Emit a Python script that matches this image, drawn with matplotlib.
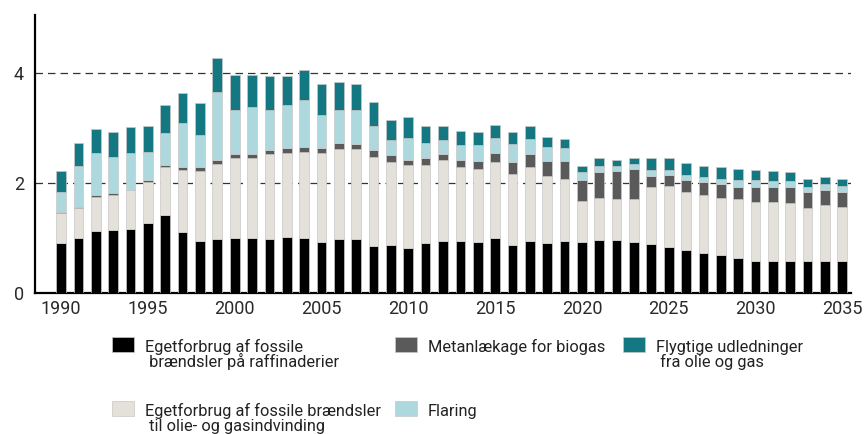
import matplotlib
matplotlib.use("Agg")
import matplotlib.pyplot as plt
from matplotlib.patches import Rectangle
import numpy as np

plt.rcParams['font.family'] = ['Roboto', 'DejaVu Sans']

years = np.arange(1990, 2036)

# cumulative tops, per series
raff = [0.91, 1.00, 1.12, 1.14, 1.16, 1.28, 1.42, 1.10, 0.95, 0.98,
        1.00, 1.00, 0.98, 1.02, 1.00, 0.93, 0.98, 0.98, 0.86, 0.88,
        0.81, 0.91, 0.95, 0.95, 0.93, 1.00, 0.88, 0.95, 0.91, 0.95,
        0.92, 0.96, 0.96, 0.92, 0.89, 0.83, 0.78, 0.73, 0.69, 0.64,
        0.59, 0.59, 0.59, 0.59, 0.59, 0.59]
olie_top = [1.45, 1.54, 1.75, 1.78, 1.87, 2.01, 2.28, 2.24, 2.22, 2.35,
            2.45, 2.45, 2.52, 2.54, 2.56, 2.54, 2.61, 2.61, 2.47, 2.38,
            2.32, 2.33, 2.42, 2.28, 2.26, 2.38, 2.17, 2.28, 2.12, 2.07,
            1.68, 1.73, 1.70, 1.70, 1.92, 1.94, 1.84, 1.78, 1.73, 1.70,
            1.66, 1.66, 1.64, 1.54, 1.59, 1.57]
metan_top = [1.47, 1.56, 1.78, 1.82, 1.88, 2.05, 2.33, 2.28, 2.28, 2.42,
             2.52, 2.52, 2.59, 2.64, 2.65, 2.64, 2.73, 2.70, 2.59, 2.50,
             2.42, 2.45, 2.52, 2.42, 2.40, 2.54, 2.38, 2.52, 2.40, 2.40,
             2.05, 2.19, 2.22, 2.26, 2.12, 2.14, 2.05, 2.01, 1.98, 1.93,
             1.93, 1.92, 1.92, 1.83, 1.87, 1.84]
flaring_top = [1.84, 2.31, 2.54, 2.47, 2.54, 2.57, 2.90, 3.08, 2.87, 3.66,
               3.33, 3.38, 3.32, 3.41, 3.50, 3.24, 3.33, 3.33, 3.03, 2.78,
               2.82, 2.73, 2.78, 2.68, 2.68, 2.82, 2.70, 2.79, 2.65, 2.64,
               2.19, 2.31, 2.31, 2.35, 2.23, 2.23, 2.14, 2.10, 2.07, 2.05,
               2.05, 2.03, 2.03, 1.93, 1.98, 1.95]
total = [2.21, 2.73, 2.98, 2.92, 3.01, 3.03, 3.41, 3.64, 3.45, 4.27,
         3.96, 3.96, 3.94, 3.94, 4.05, 3.80, 3.84, 3.80, 3.47, 3.15,
         3.19, 3.03, 3.03, 2.94, 2.92, 3.05, 2.92, 3.03, 2.84, 2.79,
         2.31, 2.45, 2.42, 2.45, 2.45, 2.45, 2.37, 2.31, 2.28, 2.26,
         2.23, 2.21, 2.19, 2.07, 2.10, 2.07]

raff = np.array(raff)
olie = np.array(olie_top) - raff
metan = np.array(metan_top) - np.array(olie_top)
flaring = np.array(flaring_top) - np.array(metan_top)
flygtige = np.array(total) - np.array(flaring_top)

labels = ["Egetforbrug af fossile\n brændsler på raffinaderier",
          "Egetforbrug af fossile brændsler\n til olie- og gasindvinding",
          "Metanlækage for biogas",
          "Flaring",
          "Flygtige udledninger\n fra olie og gas"]
colors = ["#000000", "#e4e1db", "#5a5a5a", "#acd8de", "#137882"]
series = [raff, olie, metan, flaring, flygtige]

W, H = 864, 434
fig = plt.figure(figsize=(W/100, H/100), dpi=100)
ax = fig.add_axes([35/W, 141/H, 816/W, 278/H])

bottom = np.zeros(len(years))
for vals, col, lab in zip(series, colors, labels):
    ax.bar(years, vals, bottom=bottom, width=0.56, color=col, label=lab,
           edgecolor="#c8c8c8", linewidth=0.5, zorder=3)
    bottom += vals

ax.set_xlim(1988.5, 2035.5)
ax.set_ylim(0, 5.05)
ax.set_yticks([0, 2, 4])
ax.set_xticks(np.arange(1990, 2036, 5))
ax.tick_params(length=0, labelsize=13, colors="#2a2a2a")
ax.tick_params(axis='y', pad=8)
ax.tick_params(axis='x', pad=5)
for y in [2, 4]:
    ax.axhline(y, color="#333333", linestyle=(0, (6, 4)), linewidth=0.9, zorder=1)
ax.spines['top'].set_visible(False)
ax.spines['right'].set_visible(False)
ax.spines['left'].set_linewidth(1.6)
ax.spines['bottom'].set_linewidth(1.6)

# legend drawn by hand so each swatch sits level with the first text line
# (column x of swatch, row y top of swatch) in pixels from top-left
slots = [(112, 337), (112, 401), (395, 337), (395, 401), (623, 337)]
for (px, py), col, lab in zip(slots, colors, labels):
    fig.add_artist(Rectangle((px/W, 1 - (py + 15)/H), 22/W, 15/H,
                             transform=fig.transFigure, facecolor=col,
                             edgecolor="#c8c8c8", linewidth=0.5))
    for i, line in enumerate(lab.split("\n")):
        fig.text((px + 33)/W, 1 - (py + 15 + 15*i)/H, line, fontsize=11.8,
                 color="#222222", va='baseline', ha='left')

fig.savefig("out.png", dpi=100)
